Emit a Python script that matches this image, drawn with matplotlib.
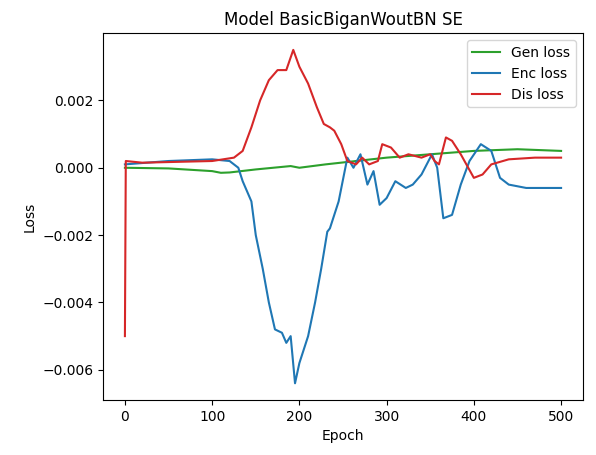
import matplotlib
matplotlib.use("Agg")
import matplotlib.pyplot as plt

gen_x = [0, 50, 100, 110, 120, 150, 190, 200, 230, 300, 350, 400, 450, 500]
gen_y = [0.0, -0.00002, -0.0001, -0.00015, -0.00014, -0.00005, 0.00005, 0.0, 0.0001,
         0.0003, 0.0004, 0.0005, 0.00055, 0.0005]

enc_x = [0, 50, 100, 120, 130, 135, 145, 150, 158, 165, 172, 180, 185, 190, 195, 200,
         210, 218, 225, 232, 235, 245, 255, 262, 270, 278, 285, 292, 300, 310, 322, 330,
         340, 352, 358, 365, 375, 385, 395, 408, 420, 430, 440, 460, 500]
enc_y = [0.0001, 0.0002, 0.00025, 0.0002, 0.0, -0.0004, -0.001, -0.002, -0.003, -0.004,
         -0.0048, -0.0049, -0.0052, -0.005, -0.0064, -0.0058, -0.005, -0.004, -0.003,
         -0.0019, -0.0018, -0.001, 0.0003, 0.0, 0.0004, -0.0005, -0.0001, -0.0011,
         -0.0009, -0.0004, -0.0006, -0.0005, -0.0002, 0.0004, 0.0, -0.0015, -0.0014,
         -0.0005, 0.0002, 0.0007, 0.0005, -0.0003, -0.0005, -0.0006, -0.0006]

dis_x = [0, 1, 20, 100, 125, 135, 145, 155, 165, 175, 185, 193, 200, 210, 220, 228, 235,
         240, 248, 255, 265, 272, 280, 290, 295, 305, 315, 325, 340, 350, 355, 360, 368,
         375, 385, 400, 410, 420, 440, 470, 500]
dis_y = [-0.005, 0.0002, 0.00015, 0.0002, 0.0003, 0.0005, 0.0012, 0.002, 0.0026, 0.0029,
         0.0029, 0.0035, 0.003, 0.0025, 0.0018, 0.0013, 0.0012, 0.0011, 0.0007, 0.0002,
         0.0001, 0.0003, 0.0001, 0.0002, 0.0007, 0.0006, 0.0003, 0.0004, 0.0003, 0.0004,
         0.0002, 0.0001, 0.0009, 0.0008, 0.0004, -0.0003, -0.0002, 0.0001, 0.00025,
         0.0003, 0.0003]

fig, ax = plt.subplots(figsize=(5.96, 4.55), dpi=100)
fig.subplots_adjust(left=0.173, right=0.978, top=0.927, bottom=0.121)
ax.plot(gen_x, gen_y, color="tab:green", label="Gen loss")
ax.plot(enc_x, enc_y, color="tab:blue", label="Enc loss")
ax.plot(dis_x, dis_y, color="tab:red", label="Dis loss")
ax.set_title("Model BasicBiganWoutBN SE")
ax.set_xlabel("Epoch")
ax.set_ylabel("Loss")
ax.legend(loc="upper right")
fig.savefig("out.png")
